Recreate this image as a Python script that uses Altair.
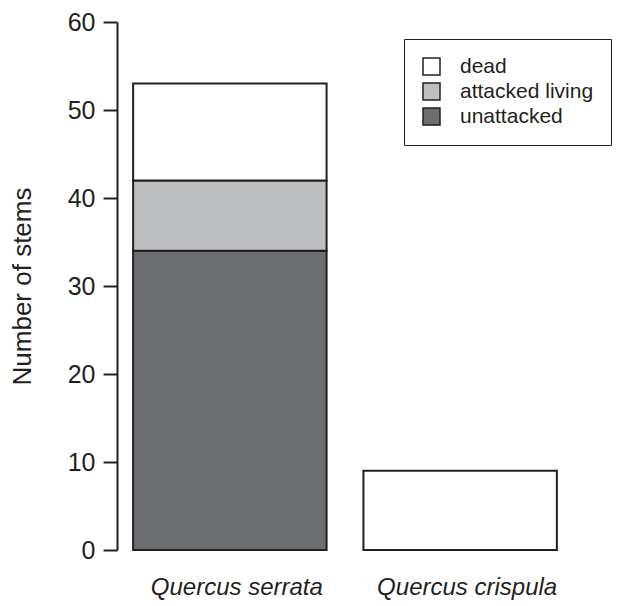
import altair as alt
import pandas as pd

species = ["Quercus serrata", "Quercus crispula"]
statuses = ["dead", "attacked living", "unattacked"]
stack_rank = {"unattacked": 0, "attacked living": 1, "dead": 2}
unattacked = [34, 0]
attacked_living = [8, 0]
dead = [11, 9]
colors = ["#ffffff", "#bcbec0", "#6d6e71"]
y_ticks = [0, 10, 20, 30, 40, 50, 60]

rows = []
for i, sp in enumerate(species):
    for st, vals in (("unattacked", unattacked), ("attacked living", attacked_living), ("dead", dead)):
        if vals[i] > 0:
            rows.append({"species": sp, "status": st, "stems": vals[i], "rank": stack_rank[st]})
df = pd.DataFrame(rows)

ink = "#231f20"
font = "Liberation Sans"

chart = alt.Chart(df).mark_bar(stroke=ink, strokeWidth=2).encode(
    x=alt.X("species:N", sort=species, title=None,
            scale=alt.Scale(paddingInner=0.16, paddingOuter=0.07),
            axis=alt.Axis(domain=False, ticks=False, labelAngle=0, labelFontStyle="italic",
                          labelFontSize=24, labelPadding=25, labelColor=ink, labelFont=font,
                          labelLimit=400, labelOffset=7)),
    y=alt.Y("stems:Q", stack="zero", title="Number of stems",
            scale=alt.Scale(domain=[0, 60], nice=False),
            axis=alt.Axis(values=y_ticks, grid=False, domainColor=ink, domainWidth=2,
                          tickColor=ink, tickWidth=2, tickSize=14, labelPadding=8,
                          labelFontSize=25, labelColor=ink, labelFont=font,
                          titleFontSize=26, titleFontWeight="normal", titleColor=ink,
                          titleFont=font, titlePadding=32)),
    color=alt.Color("status:N", scale=alt.Scale(domain=statuses, range=colors),
                    legend=alt.Legend(title=None, orient="none", legendX=287, legendY=17,
                                      strokeColor=ink, padding=17, symbolType="square",
                                      symbolSize=289, symbolStrokeColor=ink,
                                      symbolStrokeWidth=1.5, labelFontSize=21,
                                      labelFont=font, labelColor=ink, labelOffset=18,
                                      rowPadding=2)),
    order=alt.Order("rank:Q", sort="ascending"),
).properties(
    width=456, height=528,
    autosize=alt.AutoSizeParams(type="none"),
    padding={"left": 109, "top": 14, "right": 42, "bottom": 52},
).configure_view(stroke=None).configure_legend(fillColor="#ffffff")

chart.save("out.html", embed_options={"renderer": "svg", "actions": False})
